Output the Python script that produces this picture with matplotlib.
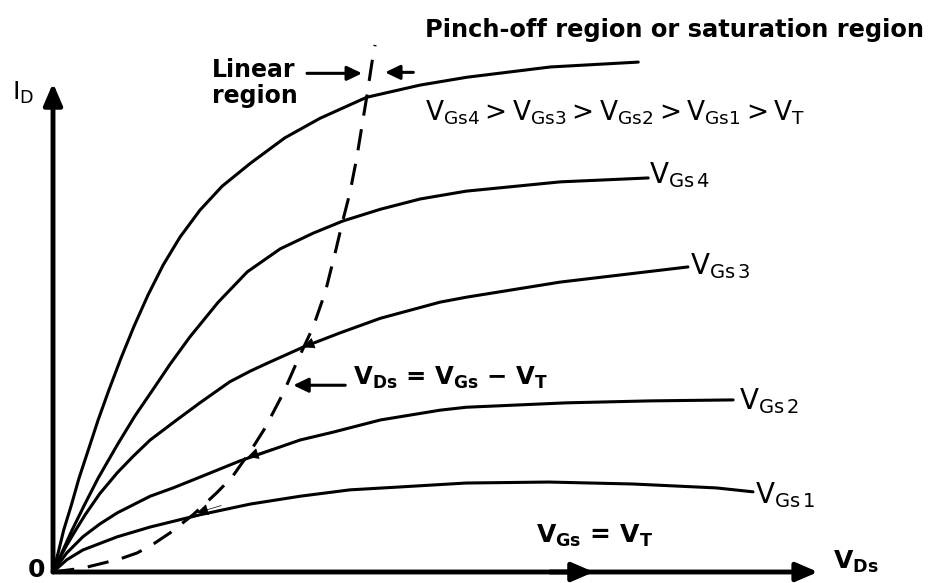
import matplotlib
matplotlib.use("Agg")
import matplotlib.pyplot as plt

plt.rcParams['font.family'] = ['DejaVu Sans']
plt.rcParams['mathtext.default'] = 'regular'

# drain current curves I_D(V_DS), arbitrary units
vds_top = [0, 0.07, 0.14, 0.24, 0.34, 0.46, 0.59, 0.73, 0.89, 1.06, 1.24, 1.44, 1.66, 1.92,
           2.21, 2.58, 3.03, 3.49, 4.10, 4.80, 5.41, 6.50, 7.65]
id_top = [0, 0.41, 0.86, 1.37, 1.92, 2.49, 3.11, 3.72, 4.38, 5.03, 5.66, 6.28, 6.85, 7.40,
          7.89, 8.36, 8.88, 9.28, 9.71, 9.96, 10.12, 10.33, 10.43]

vds_g4 = [0, 0.12, 0.25, 0.41, 0.59, 0.84, 1.07, 1.31, 1.53, 1.79, 2.16, 2.54, 2.97, 3.40,
          3.79, 4.28, 4.80, 5.40, 6.63, 7.78]
id_g4 = [0, 0.41, 0.86, 1.37, 1.92, 2.60, 3.19, 3.74, 4.25, 4.81, 5.52, 6.14, 6.61, 6.93,
         7.18, 7.42, 7.63, 7.79, 7.98, 8.06]

vds_g3 = [0, 0.09, 0.18, 0.29, 0.42, 0.61, 0.84, 1.05, 1.27, 1.60, 1.92, 2.31, 2.58, 2.80,
          3.27, 3.75, 4.28, 5.06, 5.40, 6.63, 8.30]
id_g3 = [0, 0.29, 0.55, 0.84, 1.17, 1.60, 2.03, 2.37, 2.70, 3.09, 3.46, 3.89, 4.11, 4.27,
         4.60, 4.89, 5.19, 5.52, 5.62, 5.93, 6.24]

vds_g2 = [0, 0.09, 0.18, 0.39, 0.61, 0.84, 1.27, 1.57, 1.92, 2.44, 3.23, 3.66, 4.28, 5.06,
          5.40, 6.71, 7.80, 8.89]
id_g2 = [0, 0.20, 0.39, 0.72, 0.98, 1.21, 1.55, 1.72, 1.94, 2.27, 2.70, 2.86, 3.11, 3.31,
         3.37, 3.46, 3.50, 3.52]

vds_g1 = [0, 0.18, 0.39, 0.84, 1.27, 1.92, 2.58, 3.23, 3.88, 4.54, 5.40, 6.48, 7.58, 8.67, 9.15]
id_g1 = [0, 0.25, 0.45, 0.72, 0.92, 1.17, 1.39, 1.55, 1.68, 1.74, 1.82, 1.84, 1.80, 1.72, 1.64]

# V_DS = V_GS - V_T boundary (dashed)
vds_sat = [0, 0.39, 0.65, 0.88, 1.10, 1.31, 1.53, 1.83, 2.14, 2.34, 2.58, 2.77, 3.01, 3.20,
           3.40, 3.56, 3.69, 3.79, 3.88, 3.97, 4.04, 4.10, 4.17, 4.21]
id_sat = [0, 0.08, 0.18, 0.27, 0.39, 0.57, 0.80, 1.17, 1.62, 1.94, 2.47, 2.94, 3.66, 4.34,
          5.01, 5.73, 6.54, 7.20, 7.75, 8.47, 9.14, 9.71, 10.43, 10.78]

curves = [(vds_top, id_top), (vds_g4, id_g4), (vds_g3, id_g3), (vds_g2, id_g2), (vds_g1, id_g1)]
labels = [r'$V_{Gs\,4}$', r'$V_{Gs\,3}$', r'$V_{Gs\,2}$', r'$V_{Gs\,1}$']
label_pos = [(7.79, 8.12), (8.33, 6.26), (8.97, 3.50), (9.18, 1.57)]

# little arrow marks where the dashed line cuts the lower curves
marks = [(1.88, 1.21, 2.20, 1.36), (2.54, 2.35, 2.86, 2.52), (3.27, 4.60, 3.60, 4.80)]

fig = plt.figure(figsize=(9.32, 5.83), dpi=100)
ax = fig.add_axes([0, 0, 1, 1])
ax.set_xlim(-0.693, 11.49)
ax.set_ylim(-0.225, 11.70)
ax.axis('off')

for x, y in curves:
    ax.plot(x, y, color='black', lw=2.2, solid_capstyle='round', solid_joinstyle='round')

ax.plot(vds_sat, id_sat, color='black', lw=2.2, linestyle=(0, (7, 4.5)))

for lab, (x, y) in zip(labels, label_pos):
    ax.text(x, y, lab, fontsize=20, ha='left', va='center')

# axes with arrows
arr = dict(arrowstyle='-|>,head_length=0.65,head_width=0.28', lw=3.5, color='black',
           shrinkA=0, shrinkB=0, mutation_scale=20)
ax.annotate('', xy=(0, 10.0), xytext=(0, 0), arrowprops=arr)
ax.annotate('', xy=(10.0, 0), xytext=(0, 0), arrowprops=arr)
ax.annotate('', xy=(7.07, 0), xytext=(6.5, 0), arrowprops=arr)

small = dict(arrowstyle='-|>,head_length=0.5,head_width=0.24', lw=2.2, color='black',
             shrinkA=0, shrinkB=0, mutation_scale=18)
ax.annotate('', xy=(4.04, 10.20), xytext=(3.32, 10.20), arrowprops=small)
ax.annotate('', xy=(4.34, 10.22), xytext=(4.71, 10.22), arrowprops=small)
ax.annotate('', xy=(3.14, 3.82), xytext=(3.82, 3.82), arrowprops=small)

tiny = dict(arrowstyle='-|>,head_length=0.6,head_width=0.3', lw=0.5, color='black',
            shrinkA=0, shrinkB=0, mutation_scale=12)
for x0, y0, x1, y1 in marks:
    ax.annotate('', xy=(x0, y0), xytext=(x1, y1), arrowprops=tiny)

ax.text(4.86, 11.08, 'Pinch-off region or saturation region', fontsize=17.4,
        fontweight='bold', ha='left', va='center')
ax.text(2.08, 10.0, 'Linear\nregion', fontsize=17, fontweight='bold',
        ha='left', va='center', linespacing=1.1)
ax.text(4.86, 9.39, r'$V_{Gs4}>V_{Gs3}>V_{Gs2}>V_{Gs1}>V_T$', fontsize=19,
        ha='left', va='center')
ax.text(3.92, 3.97, r'$V_{Ds}$ = $V_{Gs}$ $-$ $V_T$', fontsize=17.5, fontweight='bold',
        ha='left', va='center')
ax.text(6.31, 0.74, r'$V_{Gs}$ = $V_T$', fontsize=18, fontweight='bold',
        ha='left', va='center')
ax.text(10.20, 0.20, r'$V_{Ds}$', fontsize=18, fontweight='bold', ha='left', va='center')
ax.text(-0.54, 9.80, r'$I_D$', fontsize=18, ha='left', va='center')
ax.text(-0.21, 0.04, '0', fontsize=18, fontweight='bold', ha='center', va='center')

fig.savefig('out.png', dpi=100, facecolor='white')
